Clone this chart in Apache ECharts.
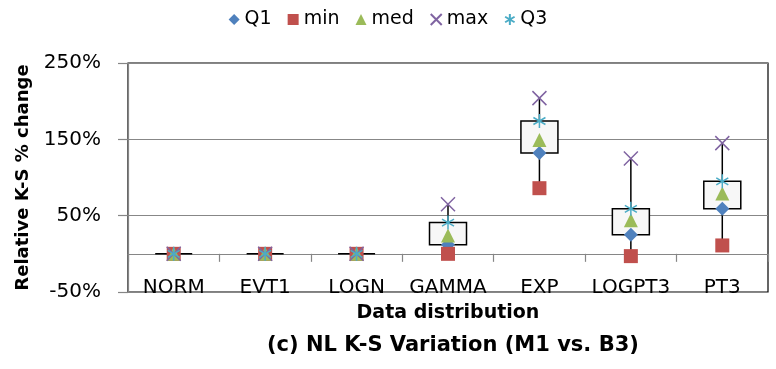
<!DOCTYPE html>
<html>
<head>
<meta charset="utf-8">
<script src="https://cdn.jsdelivr.net/npm/echarts@6/dist/echarts.min.js"></script>
<style>
  html, body { margin: 0; padding: 0; background: #fff; }
  #chart { width: 776px; height: 369px; }
</style>
</head>
<body>
<div id="chart"></div>
<script>
// Relative K-S % change per data distribution (five-number summary)
const categories = ['NORM', 'EVT1', 'LOGN', 'GAMMA', 'EXP', 'LOGPT3', 'PT3'];
const q1Values  = [0, 0, 0, 12, 132, 25, 59];
const minValues = [0, 0, 0, 0, 86, -3, 11];
const medValues = [0, 0, 0, 24, 149, 44, 79];
const maxValues = [0, 0, 0, 65, 204, 125, 145];
const q3Values  = [0, 0, 0, 41, 174, 59, 95];
const yTicks = { min: -50, max: 250, step: 100 };

const FONT = '"DejaVu Sans", "Liberation Sans", sans-serif';
const BOX_WIDTH = 37;

const colors = {
  q1: '#4F81BD', min: '#C0504D', med: '#9BBB59', max: '#8064A2', q3: '#4BACC6'
};

// box (Q1..Q3) with a whisker from min to max
const boxData = categories.map((c, i) => [i, minValues[i], q1Values[i], q3Values[i], maxValues[i]]);

function renderBox(params, api) {
  const x = api.coord([api.value(0), 0])[0];
  const yMin = api.coord([0, api.value(1)])[1];
  const yQ1 = api.coord([0, api.value(2)])[1];
  const yQ3 = api.coord([0, api.value(3)])[1];
  const yMax = api.coord([0, api.value(4)])[1];
  return {
    type: 'group',
    children: [
      {
        type: 'line',
        shape: { x1: x, y1: yMin, x2: x, y2: yMax },
        style: { stroke: '#000', lineWidth: 1.5 }
      },
      {
        type: 'rect',
        shape: { x: x - BOX_WIDTH / 2, y: yQ3, width: BOX_WIDTH, height: yQ1 - yQ3 },
        style: { fill: '#F7F7F7', stroke: '#000', lineWidth: 1.5 }
      }
    ]
  };
}

function markerSeries(name, values, symbol, color, outline) {
  return {
    name: name,
    type: 'scatter',
    data: values,
    symbol: symbol,
    symbolSize: 14,
    symbolKeepAspect: true,
    z: 5,
    itemStyle: outline
      ? { color: 'transparent', borderColor: color, borderWidth: 1.5, opacity: 1 }
      : { color: color, opacity: 1 }
  };
}

const chart = echarts.init(document.getElementById('chart'), null, { renderer: 'canvas' });

// the category axis sits on the 0% line, lifted from the plot's bottom edge
const GRID = { left: 128, right: 8, top: 63, bottom: 77 };
const plotHeight = 369 - GRID.top - GRID.bottom;
const zeroOffset = -plotHeight * (0 - yTicks.min) / (yTicks.max - yTicks.min);

chart.setOption({
  animation: false,
  textStyle: { fontFamily: FONT },
  title: {
    text: '(c) NL K-S Variation (M1 vs. B3)',
    left: 262,
    top: 330,
    textStyle: { fontFamily: FONT, fontSize: 21, fontWeight: 'bold', color: '#000' }
  },
  legend: {
    top: 5,
    left: 'center',
    itemWidth: 11,
    itemHeight: 11,
    itemGap: 16,
    textStyle: { fontFamily: FONT, fontSize: 19, color: '#000' },
    data: ['Q1', 'min', 'med', 'max', 'Q3']
  },
  grid: {
    left: GRID.left, right: GRID.right, top: GRID.top, bottom: GRID.bottom,
    show: true,
    borderColor: '#000',
    borderWidth: 1.2,
    backgroundColor: 'transparent'
  },
  xAxis: {
    type: 'category',
    data: categories,
    position: 'bottom',
    offset: zeroOffset,
    axisLine: { onZero: false, lineStyle: { color: '#868686', width: 1.2 } },
    axisTick: { show: true, length: 8, lineStyle: { color: '#868686', width: 1.2 } },
    axisLabel: { interval: 0, margin: 24, fontFamily: FONT, fontSize: 20, color: '#000' },
    name: 'Data distribution',
    nameLocation: 'middle',
    nameGap: 50,
    nameTextStyle: { fontFamily: FONT, fontSize: 19, fontWeight: 'bold', color: '#000' }
  },
  yAxis: {
    type: 'value',
    min: yTicks.min,
    max: yTicks.max,
    interval: yTicks.step,
    axisLine: { show: true, lineStyle: { color: '#868686', width: 1.2 } },
    axisTick: { show: true, length: 10, lineStyle: { color: '#868686', width: 1.2 } },
    axisLabel: { formatter: '{value}%', margin: 27, fontFamily: FONT, fontSize: 20, color: '#000' },
    splitLine: { show: true, lineStyle: { color: '#878787', width: 1.2 } },
    name: 'Relative K-S % change',
    nameLocation: 'middle',
    nameGap: 96,
    nameTextStyle: { fontFamily: FONT, fontSize: 18, fontWeight: 'bold', color: '#000' }
  },
  series: [
    {
      name: 'box',
      type: 'custom',
      renderItem: renderBox,
      data: boxData,
      encode: { x: 0, y: [1, 2, 3, 4] },
      z: 2,
      silent: true
    },
    markerSeries('Q1', q1Values, 'diamond', colors.q1, false),
    markerSeries('min', minValues, 'rect', colors.min, false),
    markerSeries('med', medValues, 'triangle', colors.med, false),
    markerSeries('max', maxValues, 'path://M0,0L10,10M10,0L0,10', colors.max, true),
    markerSeries('Q3', q3Values, 'path://M5,0L5,10M0.7,2.5L9.3,7.5M9.3,2.5L0.7,7.5', colors.q3, true)
  ]
});
</script>
</body>
</html>
